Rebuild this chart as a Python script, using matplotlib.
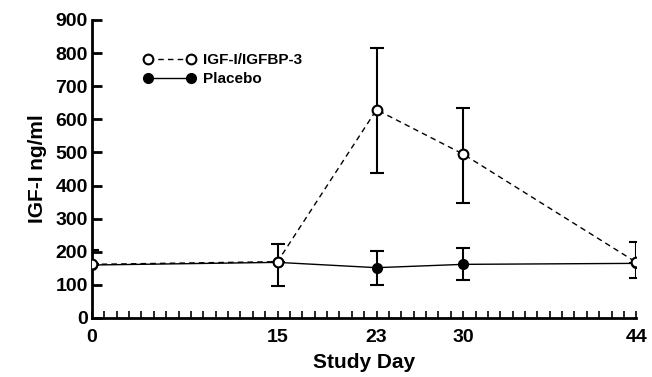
import matplotlib
matplotlib.use('Agg')
import matplotlib.pyplot as plt
from matplotlib.ticker import MultipleLocator

plt.rcParams['font.family'] = ['Liberation Sans', 'DejaVu Sans']
plt.rcParams['font.weight'] = 'bold'

# Data
days = [0, 15, 23, 30, 44]
igf_mean = [162, 170, 629, 495, 168]
igf_err_low = [0, 0, 191, 149, 46]
igf_err_high = [0, 0, 186, 139, 62]

placebo_mean = [160, 168, 152, 162, 165]
placebo_err_low = [0, 71, 52, 47, 0]
placebo_err_high = [45, 55, 51, 49, 0]

xtick_labels = ['0', '15', '23', '30', '44']
yticks = [0, 100, 200, 300, 400, 500, 600, 700, 800, 900]

fig = plt.figure(figsize=(6.52, 3.77), dpi=100)
ax = fig.add_axes([0.141, 0.1565, 0.835, 0.7905])

ax.errorbar(days, placebo_mean, yerr=[placebo_err_low, placebo_err_high],
            fmt='none', ecolor='black', elinewidth=1.5, capsize=5, capthick=1.5, zorder=2)
ax.errorbar(days, igf_mean, yerr=[igf_err_low, igf_err_high],
            fmt='none', ecolor='black', elinewidth=1.5, capsize=5, capthick=1.5, zorder=2)

ax.plot(days, placebo_mean, color='black', linestyle='-', linewidth=1.0,
        marker='o', markersize=7, markerfacecolor='black', markeredgecolor='black',
        label='Placebo', zorder=3)
ax.plot(days, igf_mean, color='black', linestyle=(0, (4, 3)), linewidth=1.0,
        marker='o', markersize=7, markerfacecolor='white', markeredgecolor='black',
        markeredgewidth=1.5, label='IGF-I/IGFBP-3', zorder=4)

ax.set_xlim(0, 44)
ax.set_ylim(0, 900)
ax.set_xticks(days)
ax.set_xticklabels(xtick_labels)
ax.set_yticks(yticks)
ax.xaxis.set_minor_locator(MultipleLocator(1))

for side in ['top', 'right']:
    ax.spines[side].set_visible(False)
for side in ['left', 'bottom']:
    ax.spines[side].set_linewidth(2)

ax.tick_params(axis='y', direction='in', length=7, width=2, labelsize=14, pad=3)
ax.tick_params(axis='x', which='major', direction='in', length=5, width=1.2,
               labelsize=14, pad=8)
ax.tick_params(axis='x', which='minor', direction='in', length=5, width=1.2)

for lab in ax.get_xticklabels() + ax.get_yticklabels():
    lab.set_fontweight('bold')

ax.set_xlabel('Study Day', fontsize=15, fontweight='bold', labelpad=5)
ax.set_ylabel('IGF-I ng/ml', fontsize=15, fontweight='bold', labelpad=6)

handles, labels = ax.get_legend_handles_labels()
leg = ax.legend(handles[::-1], labels[::-1], loc='upper left', bbox_to_anchor=(0.07, 0.935),
                frameon=False, numpoints=2, handlelength=3.4, labelspacing=0.35,
                handletextpad=0.5, prop={'weight': 'bold', 'size': 11})

fig.savefig('out.png', dpi=100)
